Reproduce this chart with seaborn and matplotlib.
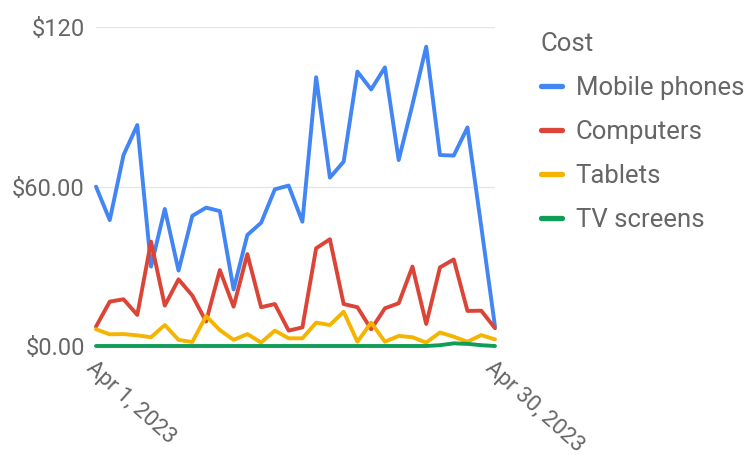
import numpy as np
import pandas as pd
import matplotlib
matplotlib.use("Agg")
import matplotlib.pyplot as plt
import seaborn as sns

dates = pd.date_range("2023-04-01", "2023-04-30", freq="D")
mobile_phones = [60.0, 47.4, 71.9, 83.2, 29.9, 51.6, 28.4, 49.0, 52.1, 50.8,
                 21.3, 41.8, 46.4, 59.0, 60.4, 46.8, 101.2, 63.4, 69.4, 103.3,
                 96.6, 104.9, 70.0, 90.9, 112.7, 71.9, 71.7, 82.3, 45.0, 7.3]
computers = [7.3, 16.7, 17.6, 11.7, 39.3, 15.2, 25.1, 19.0, 9.2, 28.6,
             14.8, 34.6, 14.6, 15.8, 5.8, 7.0, 36.8, 40.2, 15.8, 14.6,
             6.3, 14.2, 16.1, 29.9, 8.3, 29.6, 32.6, 13.2, 13.3, 6.7]
tablets = [6.3, 4.4, 4.5, 4.0, 3.3, 7.9, 2.3, 1.5, 11.3, 6.0,
           2.3, 4.5, 1.3, 5.8, 2.9, 2.9, 8.8, 7.9, 12.9, 1.6,
           8.8, 1.6, 3.8, 3.3, 1.3, 5.1, 3.5, 1.6, 4.1, 2.5]
tv_screens = [0, 0, 0, 0, 0, 0, 0, 0, 0, 0,
              0, 0, 0, 0, 0, 0, 0, 0, 0, 0,
              0, 0, 0, 0, 0, 0.3, 1.0, 0.8, 0.3, 0]
series_names = ["Mobile phones", "Computers", "Tablets", "TV screens"]
y_ticks = [0, 60, 120]
y_tick_labels = ["$0.00", "$60.00", "$120"]
x_tick_labels = ["Apr 1, 2023", "Apr 30, 2023"]

colors = ["#4285F4", "#DB4437", "#F4B400", "#0F9D58"]

df = pd.concat([
    pd.DataFrame({"date": dates, "value": vals, "series": name})
    for name, vals in zip(series_names, [mobile_phones, computers, tablets, tv_screens])
], ignore_index=True)

sns.set_theme(style="white")
plt.rcParams["font.family"] = ["Roboto", "DejaVu Sans"]

fig = plt.figure(figsize=(7.49, 4.55), dpi=100)
ax = fig.add_axes([96/749, 1-346/455, (495-96)/749, (346-27.3)/455])

sns.lineplot(data=df, x="date", y="value", hue="series", hue_order=series_names,
             palette=colors, linewidth=2.8, ax=ax, legend=True)
for ln in ax.get_lines():
    ln.set_clip_on(False)

ax.set_xlim(dates[0], dates[-1])
ax.set_ylim(0, 120)
ax.set_yticks(y_ticks)
ax.set_yticklabels(y_tick_labels)
ax.set_xticks([dates[0], dates[-1]])
ax.set_xticklabels(x_tick_labels, rotation=-42, ha="left", va="top", rotation_mode="anchor")
ax.set_xlabel("")
ax.set_ylabel("")
ax.grid(axis="y", color="#e6e6e6", linewidth=1)
ax.set_axisbelow(True)
for s in ax.spines.values():
    s.set_visible(False)
ax.tick_params(axis="both", colors="#aaaaaa", labelcolor="#666666", length=4, width=1)
ax.tick_params(axis="y", labelsize=17, pad=4)
ax.tick_params(axis="x", labelsize=16, pad=4)

handles, labels = ax.get_legend_handles_labels()
leg = ax.legend(handles, labels, title="Cost", loc="upper left",
                bbox_to_anchor=(541/749, 1-32/455), bbox_transform=fig.transFigure,
                frameon=False, fontsize=18.5, title_fontsize=18.5,
                handlelength=0.8, handletextpad=0.55, labelspacing=0.78,
                alignment="left", borderaxespad=0, borderpad=0)
leg.get_title().set_color("#666666")
for t in leg.get_texts():
    t.set_color("#666666")
for l in leg.get_lines():
    l.set_linewidth(3.8)
    l.set_solid_capstyle("round")

fig.savefig("out.png", dpi=100)
